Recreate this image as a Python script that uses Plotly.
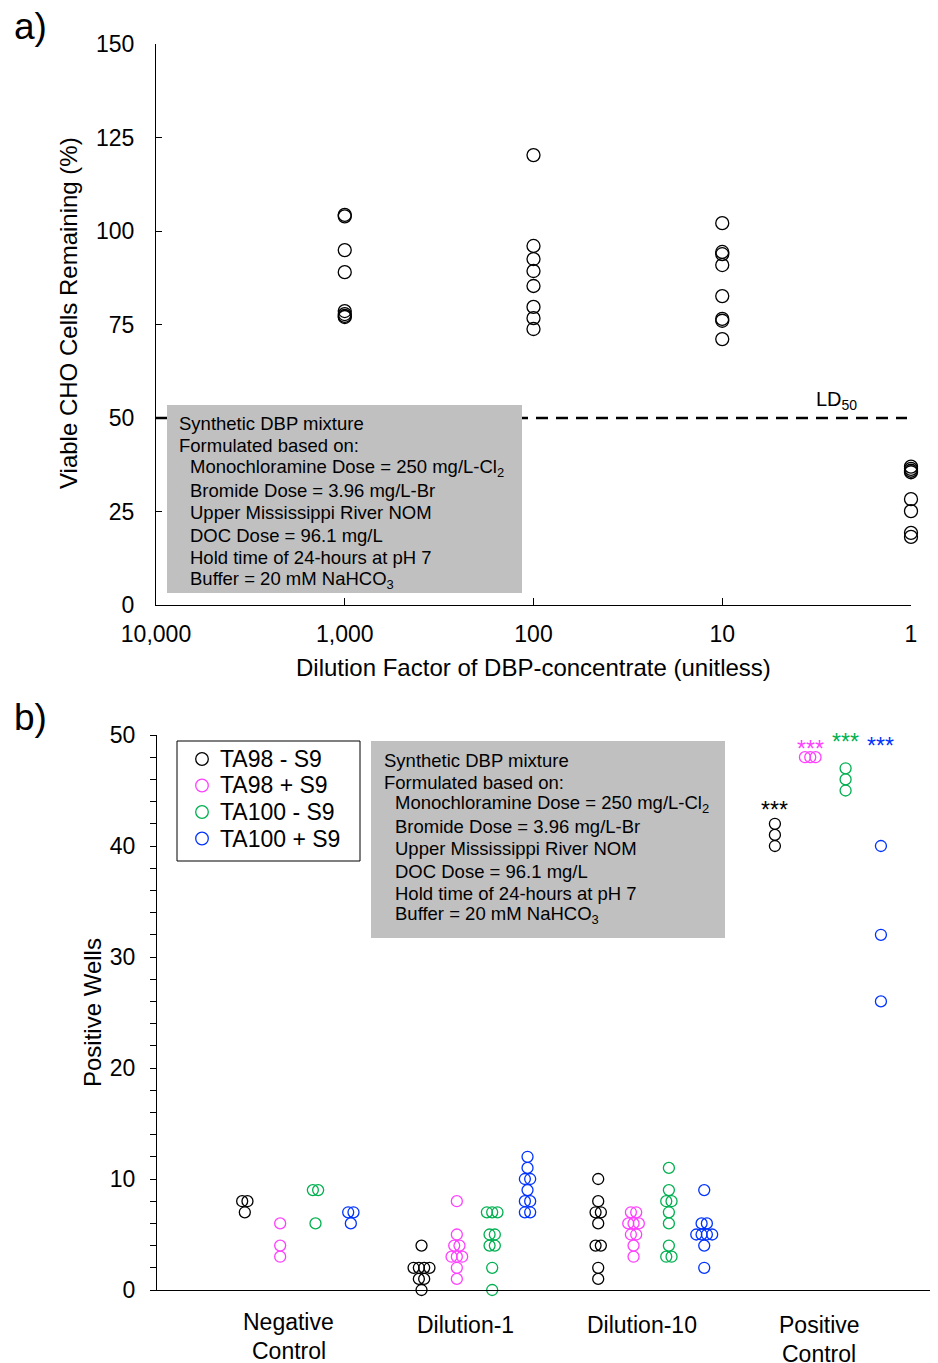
import plotly.graph_objects as go
from collections import Counter

# The page body has an 8px margin, so the figure is offset by 8px in the window.
OFF = 8
W, H = 938, 1363
FONT = "Liberation Sans, Arial, sans-serif"


def px(x):
    return (x - OFF) / W


def py(y):
    return 1 - (y - OFF) / H


# ---------------- Panel a data ----------------
dilution_tickvals = [10000, 1000, 100, 10, 1]
dilution_ticktext = ["10,000", "1,000", "100", "10", "1"]
dilution_factors = [1000, 100, 10, 1]
viab_1000 = [104.3, 103.9, 94.9, 89.0, 78.6, 77.8, 77.3, 77.0]
viab_100 = [120.3, 96.0, 92.5, 89.3, 85.3, 79.7, 76.7, 73.8]
viab_10 = [102.1, 94.4, 93.8, 90.9, 82.6, 76.5, 76.0, 71.1]
viab_1 = [37.0, 36.4, 35.9, 35.5, 28.3, 25.1, 19.3, 18.2]
ld50_value = 50
ld50_x = [10000, 1.05]

# ---------------- Panel b data ----------------
categories = ["Negative<br>Control", "Dilution-1", "Dilution-10", "Positive<br>Control"]
strains = ["TA98 - S9", "TA98 + S9", "TA100 - S9", "TA100 + S9"]
ta98_minus_s9 = [[8, 8, 7], [4, 2, 2, 2, 2, 1, 1, 0], [10, 8, 7, 7, 6, 4, 4, 2, 1], [42, 41, 40]]
ta98_plus_s9 = [[6, 4, 3], [8, 5, 4, 4, 3, 3, 3, 2, 1], [7, 7, 6, 6, 6, 5, 5, 4, 3], [48, 48, 48]]
ta100_minus_s9 = [[9, 9, 6], [7, 7, 7, 5, 5, 4, 4, 2, 0], [11, 9, 8, 8, 7, 6, 4, 3, 3], [47, 46, 45]]
ta100_plus_s9 = [[7, 7, 6], [12, 11, 10, 10, 9, 8, 8, 7, 7], [9, 6, 6, 5, 5, 5, 5, 4, 2], [40, 32, 26]]
significance = "***"

box_lines = [
    "Synthetic DBP mixture",
    "Formulated based on:",
    "Monochloramine Dose = 250 mg/L-Cl<sub>2</sub>",
    "Bromide Dose = 3.96 mg/L-Br",
    "Upper Mississippi River NOM",
    "DOC Dose = 96.1 mg/L",
    "Hold time of 24-hours at pH 7",
    "Buffer = 20 mM NaHCO<sub>3</sub>",
]

# ---------------- styles ----------------
colors = ["#000000", "#FF40FF", "#00B050", "#0033FF"]
series_offsets = [-0.25, -0.05, 0.15, 0.35]
strain_data = [ta98_minus_s9, ta98_plus_s9, ta100_minus_s9, ta100_plus_s9]


def dodge(vals, center, step=0.03):
    totals = Counter(vals)
    seen = Counter()
    xs = []
    for v in vals:
        k = seen[v]
        seen[v] += 1
        xs.append(center + (k - (totals[v] - 1) / 2) * step)
    return xs


fig = go.Figure()

# Panel a points
for d, vals in zip(dilution_factors, [viab_1000, viab_100, viab_10, viab_1]):
    fig.add_trace(go.Scatter(
        x=[d] * len(vals), y=vals, mode="markers", xaxis="x", yaxis="y",
        marker=dict(symbol="circle-open", size=13, color="black", line=dict(width=1.3, color="black")),
        showlegend=False, cliponaxis=False, hoverinfo="x+y",
    ))

# LD50 line
fig.add_trace(go.Scatter(
    x=ld50_x, y=[ld50_value] * len(ld50_x), mode="lines", xaxis="x", yaxis="y",
    line=dict(color="black", width=2.6, dash="12px,8px"), showlegend=False, hoverinfo="skip",
))

# Panel b points
for si, (name, data, col) in enumerate(zip(strains, strain_data, colors)):
    xs, ys = [], []
    for ci, vals in enumerate(data):
        xs += dodge(vals, ci + 1 + series_offsets[si])
        ys += vals
    fig.add_trace(go.Scatter(
        x=xs, y=ys, mode="markers", xaxis="x2", yaxis="y2", name=name,
        marker=dict(symbol="circle-open", size=11, color=col, line=dict(width=1.3, color=col)),
        showlegend=False, cliponaxis=False,
    ))

axis_common = dict(showline=True, linecolor="black", linewidth=1.3, showgrid=False, zeroline=False,
                   tickfont=dict(family=FONT, size=23, color="black"), tickcolor="black")

fig.update_layout(
    width=W, height=H, autosize=False,
    margin=dict(l=0, r=0, t=0, b=0),
    template="none",
    showlegend=False,
    paper_bgcolor="white", plot_bgcolor="white",
    font=dict(family=FONT, color="black"),
    xaxis=dict(type="log", range=[4, 0], domain=[px(156), px(911)], anchor="y",
               tickvals=dilution_tickvals, ticktext=dilution_ticktext,
               ticks="inside", ticklen=7, ticklabelstandoff=8, **axis_common),
    yaxis=dict(range=[0, 150], domain=[py(605), py(44)], anchor="x", dtick=25, tick0=0,
               ticks="inside", ticklen=6, ticklabelstandoff=16, **axis_common),
    xaxis2=dict(range=[0.253, 4.673], domain=[px(157), px(938)], anchor="y2",
                ticks="", showticklabels=False, **axis_common),
    yaxis2=dict(range=[0, 50], domain=[py(1290), py(735)], anchor="x2", dtick=10, tick0=0,
                ticks="outside", ticklen=6, ticklabelstandoff=10,
                minor=dict(dtick=2, ticks="outside", ticklen=6, tickcolor="black"),
                **axis_common),
)

# Gray boxes
fig.add_shape(type="rect", xref="paper", yref="paper",
              x0=px(167), x1=px(522), y0=py(593), y1=py(405),
              fillcolor="#C0C0C0", line=dict(width=0), layer="above")
fig.add_shape(type="rect", xref="paper", yref="paper",
              x0=px(371), x1=px(725), y0=py(938), y1=py(741),
              fillcolor="#C0C0C0", line=dict(width=0), layer="above")

# Legend frame (panel b)
fig.add_shape(type="rect", xref="paper", yref="paper",
              x0=px(177), x1=px(360), y0=py(861), y1=py(741),
              fillcolor="white", line=dict(width=1, color="black"), layer="above")

ann = []


def text(x, y, s, size, xanchor="center", yanchor="middle", color="black", angle=0, xref="paper", yref="paper"):
    ann.append(dict(x=x, y=y, xref=xref, yref=yref, text=s, showarrow=False,
                    xanchor=xanchor, yanchor=yanchor, textangle=angle,
                    font=dict(family=FONT, size=size, color=color)))


# Legend entries
legend_rows = [759, 785.5, 812, 838.5]
r = 6.3
for name, col, yy in zip(strains, colors, legend_rows):
    fig.add_shape(type="circle", xref="paper", yref="paper",
                  x0=px(202 - r), x1=px(202 + r), y0=py(yy + r), y1=py(yy - r),
                  line=dict(width=1.3, color=col), fillcolor="rgba(0,0,0,0)", layer="above")
    text(px(218), py(yy), name, 23, xanchor="left")

# box text lines
a_line_y = [423, 445.4, 467.8, 490.2, 512.6, 535, 557.4, 579.8]
b_line_y = [760, 782.2, 804.4, 826.6, 848.8, 871, 893.2, 915.4]
for i, s in enumerate(box_lines):
    text(px(177 if i < 2 else 188), py(a_line_y[i]), s, 18.5, xanchor="left")
    text(px(382 if i < 2 else 393), py(b_line_y[i]), s, 18.5, xanchor="left")

# LD50 label
text(px(836), py(400), "LD<sub>50</sub>", 20)

# panel labels
text(px(30), py(26), "a)", 37)
text(px(30), py(717), "b)", 37)

# axis titles
text(px(68), py(313), "Viable CHO Cells Remaining (%)", 24, angle=-90)
text(px(533), py(667), "Dilution Factor of DBP-concentrate (unitless)", 24)
text(px(92), py(1013), "Positive Wells", 24, angle=-90)

# category labels
cat_top = [1322, 1325, 1325, 1325]
for ci, lab in enumerate(categories):
    for li, part in enumerate(lab.split("<br>")):
        text(ci + 1, py(cat_top[ci] + li * 28.5), part, 23, xref="x2")

# significance stars
star_y = [43.2, 48.7, 49.4, 49.0]
for si, col in enumerate(colors):
    text(4 + series_offsets[si], star_y[si], significance, 23, color=col, xref="x2", yref="y2")

fig.update_layout(annotations=ann)
fig.write_html("out.html")
